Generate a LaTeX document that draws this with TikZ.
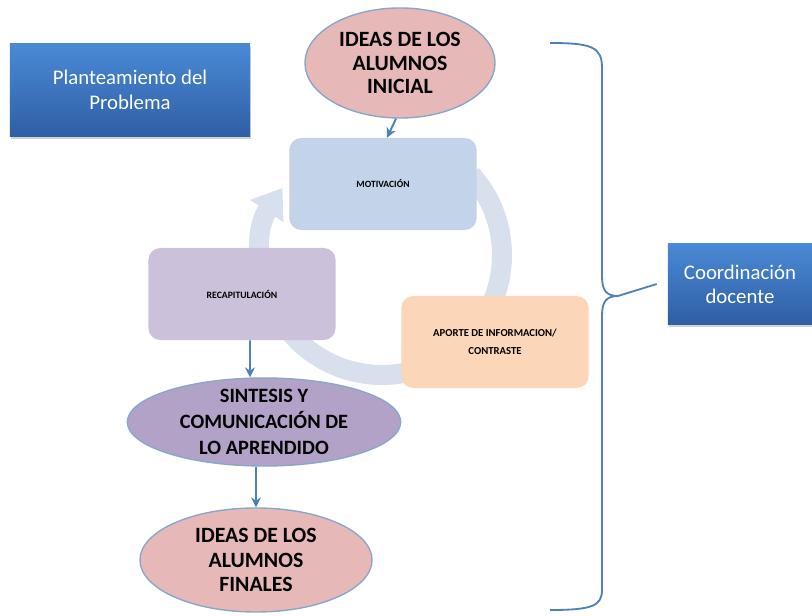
\documentclass[tikz,border=0pt]{standalone}
\usepackage{fontspec}
\setmainfont{Carlito}
\usetikzlibrary{shapes.geometric,arrows.meta,shadows}

\definecolor{azul}{HTML}{4F81BD}
\definecolor{azulsup}{HTML}{4A89D6}
\definecolor{azulinf}{HTML}{2F5FA5}
\definecolor{rosa}{HTML}{E6B9B8}
\definecolor{lila}{HTML}{B3A2C7}
\definecolor{celeste}{HTML}{C2D3EA}
\definecolor{malva}{HTML}{CCC1DA}
\definecolor{melocoton}{HTML}{FBD6B8}
\definecolor{anillo}{HTML}{D8E0ED}
\definecolor{borde}{HTML}{8AA6CB}

\begin{document}
\begin{tikzpicture}[x=0.025cm, y=-0.025cm,
    titulo/.style={rectangle, top color=azulsup, bottom color=azulinf, draw=none,
        text=white, align=center, drop shadow={opacity=0.35, shadow xshift=1pt, shadow yshift=-2pt}},
    idea/.style={ellipse, draw=borde, line width=1pt, inner sep=0pt},
    etapa/.style={rectangle, rounded corners=0.3cm, draw=none, align=center,
        minimum width=4.68cm, minimum height=2.3cm},
    flecha/.style={azul, line width=1.4pt, -{Stealth[length=7pt, width=7pt]}}]
    \useasboundingbox (0,0) rectangle (812,616);
    \fill[white] (0,0) rectangle (812,616);

    % Ciclo de fondo
    \draw[anillo, line width=0.5cm, -{Triangle[width=0.95cm, length=0.7cm]}]
        (382,255) ++(-42:120) arc[start angle=-42, end angle=214, radius=120];

    % Cuadros de titulo
    \node[titulo, minimum width=6cm, minimum height=2.3cm, font=\fontsize{14.8}{17.5}\selectfont]
        (plan) at (130,90) {Planteamiento del\\Problema};
    \node[titulo, minimum width=3.6cm, minimum height=2cm, font=\fontsize{14.8}{17}\selectfont]
        (coord) at (740,284) {Coordinación\\docente};

    % Ideas y etapas
    \node[idea, fill=rosa, minimum width=4.75cm, minimum height=2.75cm,
        label={[align=center, font=\fontsize{15.5}{16.8}\selectfont\bfseries]center:IDEAS DE LOS\\ALUMNOS\\INICIAL}]
        (ini) at (400,63) {};
    \node[etapa, fill=celeste, font=\fontsize{6.8}{9}\selectfont\bfseries] (mot) at (383,184) {MOTIVACIÓN};
    \node[etapa, fill=malva, font=\fontsize{6.9}{9}\selectfont\bfseries] (recap) at (242,294) {RECAPITULACIÓN};
    \node[etapa, fill=melocoton, font=\fontsize{7.6}{13}\selectfont\bfseries]
        (aporte) at (495,342) {APORTE DE INFORMACION/\\CONTRASTE};
    \node[idea, fill=lila, minimum width=6.83cm, minimum height=2.2cm,
        label={[align=center, font=\fontsize{14.5}{18.5}\selectfont\bfseries]center:SINTESIS Y\\COMUNICACIÓN DE\\LO APRENDIDO}]
        (sin) at (264,422) {};
    \node[idea, fill=rosa, minimum width=5.8cm, minimum height=2.6cm,
        label={[align=center, font=\fontsize{15.5}{17.5}\selectfont\bfseries]center:IDEAS DE LOS\\ALUMNOS\\FINALES}]
        (fin) at (256,560) {};

    % Flechas
    \draw[flecha] ([xshift=-0.1cm]ini.south) -- ([xshift=0.1cm]mot.north);
    \draw[flecha] ([xshift=0.2cm]recap.south) -- ([xshift=-0.35cm]sin.north);
    \draw[flecha] (sin.south -| fin.north) -- (fin.north);

    % Llave de coordinacion
    \coordinate (punta) at ([xshift=-0.275cm]coord.west);
    \draw[azul, line width=1.3pt]
        (550,43) .. controls (592,43) and (602,47) .. (602,68) -- (602,276)
        .. controls (602,290) and (606,296) .. (618,296) -- (punta)
        (618,296) .. controls (606,296) and (602,302) .. (602,316) -- (602,590)
        .. controls (602,606) and (592,610) .. (550,610);
\end{tikzpicture}
\end{document}
